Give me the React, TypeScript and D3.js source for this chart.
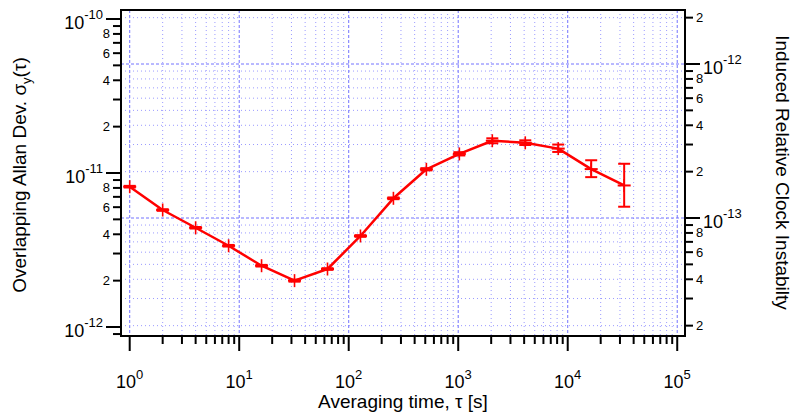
import React from "react";
import * as d3 from "d3";

// ---- data ----
const tau = [1, 2, 4, 8, 16, 32, 64, 128, 256, 512, 1024, 2048, 4096, 8192, 16384, 32768];
const adev = [8.15e-12, 5.75e-12, 4.41e-12, 3.37e-12, 2.5e-12, 2.0e-12, 2.38e-12, 3.9e-12, 6.85e-12, 1.057e-11, 1.33e-11, 1.62e-11, 1.57e-11, 1.44e-11, 1.06e-11, 8.3e-12];
const errLo = [8.05e-12, 5.68e-12, 4.36e-12, 3.33e-12, 2.47e-12, 1.97e-12, 2.35e-12, 3.85e-12, 6.76e-12, 1.04e-11, 1.3e-11, 1.56e-11, 1.52e-11, 1.37e-11, 9.4e-12, 6.04e-12];
const errHi = [8.25e-12, 5.82e-12, 4.46e-12, 3.41e-12, 2.53e-12, 2.03e-12, 2.41e-12, 3.95e-12, 6.94e-12, 1.075e-11, 1.365e-11, 1.68e-11, 1.63e-11, 1.53e-11, 1.21e-11, 1.148e-11];

const xMajor = [0, 1, 2, 3, 4, 5]; // exponents, tick labels 10^n
const minorMult = [2, 3, 4, 5, 6, 7, 8, 9];
const labeledMinor = [2, 4, 6, 8];
const rightFactor = 0.0196; // induced clock instability = adev * factor

const xTitle = "Averaging time, τ [s]";
const leftTitle = "Overlapping Allan Dev. σ";
const rightTitle = "Induced Relative Clock Instabilty";

// ---- layout ----
const W = 793, H = 416;
const L = 121, R = 685, T = 10, B = 336;

const font = "Arial, 'Liberation Sans', sans-serif";

export default function App() {
  const x = d3.scaleLog().domain([Math.pow(10, -0.0795), Math.pow(10, 5.071)]).range([L, R]);
  const yL = d3.scaleLog().domain([1e-12, 1e-10]).range([327, 19]);
  const yR = d3.scaleLog().domain([1e-12 * rightFactor, 1e-10 * rightFactor]).range([327, 19]);

  const [lo, hi] = [yL.invert(B), yL.invert(T)];
  const [rlo, rhi] = [yR.invert(B), yR.invert(T)];

  const xTicks: { v: number; major: boolean }[] = [];
  for (let e = 0; e <= 5; e++) {
    xTicks.push({ v: Math.pow(10, e), major: true });
    if (e < 5) minorMult.forEach((m) => xTicks.push({ v: m * Math.pow(10, e), major: false }));
  }
  const lTicks: { v: number; m: number; e: number }[] = [];
  for (let e = -13; e <= -10; e++) {
    [1, ...minorMult].forEach((m) => {
      const v = m * Math.pow(10, e);
      if (v >= lo * 0.999 && v <= hi * 1.001) lTicks.push({ v, m, e });
    });
  }
  const rTicks: { v: number; m: number; e: number }[] = [];
  for (let e = -15; e <= -11; e++) {
    [1, ...minorMult].forEach((m) => {
      const v = m * Math.pow(10, e);
      if (v >= rlo * 0.999 && v <= rhi * 1.001) rTicks.push({ v, m, e });
    });
  }

  const line = d3
    .line<number>()
    .x((_, i) => x(tau[i]))
    .y((d) => yL(d));

  const gridMajor = "#7373ff";
  const gridMinor = "#9b9bff";

  return (
    <svg width={W} height={H} style={{ position: "absolute", left: 0, top: 0, background: "#fff" }} fontFamily={font}>
      {xTicks.map((t, i) => (
        <line key={"gx" + i} x1={x(t.v)} x2={x(t.v)} y1={T} y2={B}
          stroke={t.major ? gridMajor : gridMinor} strokeWidth={1}
          strokeDasharray={t.major ? "3,2" : "1,3"} />
      ))}
      {rTicks.map((t, i) => (
        <line key={"gy" + i} x1={L} x2={R} y1={yR(t.v)} y2={yR(t.v)}
          stroke={t.m === 1 ? gridMajor : gridMinor} strokeWidth={1}
          strokeDasharray={t.m === 1 ? "3,2" : "1,3"} />
      ))}

      <path d={line(adev) || ""} fill="none" stroke="#ff0000" strokeWidth={2.5} strokeLinejoin="round" />
      {tau.map((t, i) => {
        const cx = x(t);
        const y1 = yL(errHi[i]);
        const y2 = yL(errLo[i]);
        return (
          <g key={"e" + i} stroke="#ff0000" strokeWidth={2}>
            <line x1={cx} x2={cx} y1={y1} y2={y2} />
            <line x1={cx - 6} x2={cx + 6} y1={y1} y2={y1} />
            <line x1={cx - 6} x2={cx + 6} y1={y2} y2={y2} />
          </g>
        );
      })}
      {tau.map((t, i) => {
        const cx = x(t);
        const cy = yL(adev[i]);
        return (
          <g key={"m" + i} stroke="#ff0000" strokeWidth={2}>
            <line x1={cx - 6.5} x2={cx + 6.5} y1={cy} y2={cy} />
            <line x1={cx} x2={cx} y1={cy - 6.5} y2={cy + 6.5} strokeWidth={1.6} />
          </g>
        );
      })}

      <rect x={L} y={T} width={R - L} height={B - T} fill="none" stroke="#000" strokeWidth={2} />

      {xTicks.map((t, i) => (
        <line key={"xt" + i} x1={x(t.v)} x2={x(t.v)} y1={B} y2={B + (t.major ? 15 : 8)} stroke="#000" strokeWidth={2} />
      ))}
      {xMajor.map((e) => (
        <text key={"xl" + e} x={x(Math.pow(10, e))} y={388} textAnchor="middle" fontSize={18} fill="#000">
          <tspan>10</tspan>
          <tspan fontSize={13} dy={-9}>{String(e)}</tspan>
        </text>
      ))}
      <text x={(L + R) / 2} y={408} textAnchor="middle" fontSize={19} fill="#000">{xTitle}</text>

      {lTicks.map((t, i) => (
        <line key={"lt" + i} x1={L - (t.m === 1 ? 15 : 8)} x2={L} y1={yL(t.v)} y2={yL(t.v)} stroke="#000" strokeWidth={2} />
      ))}
      {lTicks.filter((t) => t.m === 1 || labeledMinor.includes(t.m)).map((t, i) =>
        t.m === 1 ? (
          <text key={"ll" + i} x={L - 18} y={yL(t.v) + 10} textAnchor="end" fontSize={18} fill="#000">
            <tspan>10</tspan>
            <tspan fontSize={13} dy={-10}>{String(t.e)}</tspan>
          </text>
        ) : (
          <text key={"ll" + i} x={L - 11} y={yL(t.v) + 4.5} textAnchor="end" fontSize={13} fill="#000">{String(t.m)}</text>
        )
      )}
      <text transform="translate(26,175) rotate(-90)" textAnchor="middle" fontSize={19} fill="#000">
        <tspan>{leftTitle}</tspan>
        <tspan fontSize={13} dy={5}>y</tspan>
        <tspan dy={-5}>(τ)</tspan>
      </text>

      {rTicks.map((t, i) => (
        <line key={"rt" + i} x1={R} x2={R + (t.m === 1 ? 15 : 8)} y1={yR(t.v)} y2={yR(t.v)} stroke="#000" strokeWidth={2} />
      ))}
      {rTicks.filter((t) => t.m === 1 || labeledMinor.includes(t.m)).map((t, i) =>
        t.m === 1 ? (
          <text key={"rl" + i} x={R + 18} y={yR(t.v) + 10} textAnchor="start" fontSize={18} fill="#000">
            <tspan>10</tspan>
            <tspan fontSize={13} dy={-10}>{String(t.e)}</tspan>
          </text>
        ) : (
          <text key={"rl" + i} x={R + 11} y={yR(t.v) + 4.5} textAnchor="start" fontSize={13} fill="#000">{String(t.m)}</text>
        )
      )}
      <text transform="translate(776,172.5) rotate(90)" textAnchor="middle" fontSize={19} fill="#000">{rightTitle}</text>
    </svg>
  );
}
